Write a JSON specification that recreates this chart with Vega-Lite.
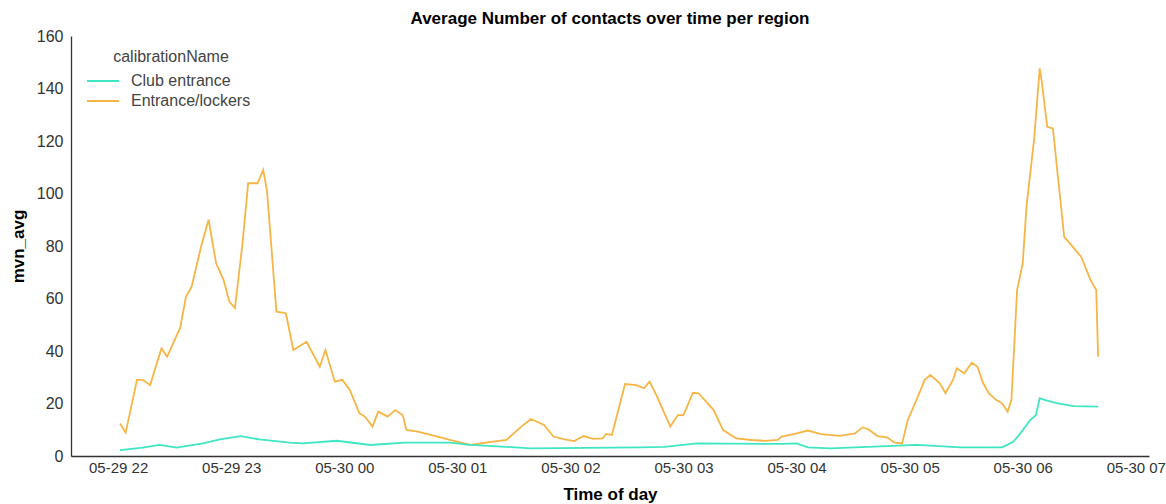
{
  "$schema": "https://vega.github.io/schema/vega-lite/v6.json",
  "width": 1078,
  "height": 420,
  "autosize": {"type": "none"},
  "padding": {"left": 71, "top": 36, "right": 17, "bottom": 48},
  "background": "white",
  "title": {"text": "Average Number of contacts over time per region", "fontSize": 17, "font": "Liberation Sans", "fontWeight": "bold", "color": "#000000", "anchor": "middle", "offset": 0},
  "data": {"values": [
    {"time": "2021-05-29T22:01:00", "mvn_avg": 12.4, "calibrationName": "Entrance/lockers"},
    {"time": "2021-05-29T22:04:00", "mvn_avg": 8.9, "calibrationName": "Entrance/lockers"},
    {"time": "2021-05-29T22:10:00", "mvn_avg": 29, "calibrationName": "Entrance/lockers"},
    {"time": "2021-05-29T22:13:00", "mvn_avg": 29, "calibrationName": "Entrance/lockers"},
    {"time": "2021-05-29T22:17:00", "mvn_avg": 27, "calibrationName": "Entrance/lockers"},
    {"time": "2021-05-29T22:23:00", "mvn_avg": 41, "calibrationName": "Entrance/lockers"},
    {"time": "2021-05-29T22:26:00", "mvn_avg": 37.8, "calibrationName": "Entrance/lockers"},
    {"time": "2021-05-29T22:33:00", "mvn_avg": 49, "calibrationName": "Entrance/lockers"},
    {"time": "2021-05-29T22:36:00", "mvn_avg": 60.7, "calibrationName": "Entrance/lockers"},
    {"time": "2021-05-29T22:39:00", "mvn_avg": 64.5, "calibrationName": "Entrance/lockers"},
    {"time": "2021-05-29T22:44:00", "mvn_avg": 79.7, "calibrationName": "Entrance/lockers"},
    {"time": "2021-05-29T22:48:00", "mvn_avg": 90, "calibrationName": "Entrance/lockers"},
    {"time": "2021-05-29T22:52:00", "mvn_avg": 73.4, "calibrationName": "Entrance/lockers"},
    {"time": "2021-05-29T22:56:00", "mvn_avg": 67, "calibrationName": "Entrance/lockers"},
    {"time": "2021-05-29T22:59:00", "mvn_avg": 58.8, "calibrationName": "Entrance/lockers"},
    {"time": "2021-05-29T23:02:00", "mvn_avg": 56.3, "calibrationName": "Entrance/lockers"},
    {"time": "2021-05-29T23:06:00", "mvn_avg": 81, "calibrationName": "Entrance/lockers"},
    {"time": "2021-05-29T23:09:00", "mvn_avg": 103.9, "calibrationName": "Entrance/lockers"},
    {"time": "2021-05-29T23:14:00", "mvn_avg": 103.9, "calibrationName": "Entrance/lockers"},
    {"time": "2021-05-29T23:17:00", "mvn_avg": 109, "calibrationName": "Entrance/lockers"},
    {"time": "2021-05-29T23:19:00", "mvn_avg": 101, "calibrationName": "Entrance/lockers"},
    {"time": "2021-05-29T23:24:00", "mvn_avg": 55, "calibrationName": "Entrance/lockers"},
    {"time": "2021-05-29T23:29:00", "mvn_avg": 54.4, "calibrationName": "Entrance/lockers"},
    {"time": "2021-05-29T23:33:00", "mvn_avg": 40.4, "calibrationName": "Entrance/lockers"},
    {"time": "2021-05-29T23:40:00", "mvn_avg": 43.5, "calibrationName": "Entrance/lockers"},
    {"time": "2021-05-29T23:47:00", "mvn_avg": 34, "calibrationName": "Entrance/lockers"},
    {"time": "2021-05-29T23:50:00", "mvn_avg": 40.4, "calibrationName": "Entrance/lockers"},
    {"time": "2021-05-29T23:55:00", "mvn_avg": 28.3, "calibrationName": "Entrance/lockers"},
    {"time": "2021-05-29T23:59:00", "mvn_avg": 29, "calibrationName": "Entrance/lockers"},
    {"time": "2021-05-30T00:03:00", "mvn_avg": 25.1, "calibrationName": "Entrance/lockers"},
    {"time": "2021-05-30T00:08:00", "mvn_avg": 16.3, "calibrationName": "Entrance/lockers"},
    {"time": "2021-05-30T00:11:00", "mvn_avg": 15, "calibrationName": "Entrance/lockers"},
    {"time": "2021-05-30T00:15:00", "mvn_avg": 11.2, "calibrationName": "Entrance/lockers"},
    {"time": "2021-05-30T00:18:00", "mvn_avg": 16.9, "calibrationName": "Entrance/lockers"},
    {"time": "2021-05-30T00:23:00", "mvn_avg": 15, "calibrationName": "Entrance/lockers"},
    {"time": "2021-05-30T00:27:00", "mvn_avg": 17.5, "calibrationName": "Entrance/lockers"},
    {"time": "2021-05-30T00:31:00", "mvn_avg": 15.6, "calibrationName": "Entrance/lockers"},
    {"time": "2021-05-30T00:33:00", "mvn_avg": 9.9, "calibrationName": "Entrance/lockers"},
    {"time": "2021-05-30T00:39:00", "mvn_avg": 9.3, "calibrationName": "Entrance/lockers"},
    {"time": "2021-05-30T00:53:00", "mvn_avg": 6.7, "calibrationName": "Entrance/lockers"},
    {"time": "2021-05-30T00:56:00", "mvn_avg": 6.1, "calibrationName": "Entrance/lockers"},
    {"time": "2021-05-30T01:07:00", "mvn_avg": 4.2, "calibrationName": "Entrance/lockers"},
    {"time": "2021-05-30T01:18:00", "mvn_avg": 5.4, "calibrationName": "Entrance/lockers"},
    {"time": "2021-05-30T01:26:00", "mvn_avg": 6.1, "calibrationName": "Entrance/lockers"},
    {"time": "2021-05-30T01:34:00", "mvn_avg": 11.2, "calibrationName": "Entrance/lockers"},
    {"time": "2021-05-30T01:39:00", "mvn_avg": 14.1, "calibrationName": "Entrance/lockers"},
    {"time": "2021-05-30T01:46:00", "mvn_avg": 11.8, "calibrationName": "Entrance/lockers"},
    {"time": "2021-05-30T01:51:00", "mvn_avg": 7.4, "calibrationName": "Entrance/lockers"},
    {"time": "2021-05-30T01:57:00", "mvn_avg": 6.3, "calibrationName": "Entrance/lockers"},
    {"time": "2021-05-30T02:02:00", "mvn_avg": 5.7, "calibrationName": "Entrance/lockers"},
    {"time": "2021-05-30T02:07:00", "mvn_avg": 7.6, "calibrationName": "Entrance/lockers"},
    {"time": "2021-05-30T02:12:00", "mvn_avg": 6.5, "calibrationName": "Entrance/lockers"},
    {"time": "2021-05-30T02:17:00", "mvn_avg": 6.7, "calibrationName": "Entrance/lockers"},
    {"time": "2021-05-30T02:19:00", "mvn_avg": 8.4, "calibrationName": "Entrance/lockers"},
    {"time": "2021-05-30T02:22:00", "mvn_avg": 8, "calibrationName": "Entrance/lockers"},
    {"time": "2021-05-30T02:29:00", "mvn_avg": 27.4, "calibrationName": "Entrance/lockers"},
    {"time": "2021-05-30T02:35:00", "mvn_avg": 27, "calibrationName": "Entrance/lockers"},
    {"time": "2021-05-30T02:39:00", "mvn_avg": 25.8, "calibrationName": "Entrance/lockers"},
    {"time": "2021-05-30T02:42:00", "mvn_avg": 28.3, "calibrationName": "Entrance/lockers"},
    {"time": "2021-05-30T02:46:00", "mvn_avg": 22.6, "calibrationName": "Entrance/lockers"},
    {"time": "2021-05-30T02:53:00", "mvn_avg": 11.2, "calibrationName": "Entrance/lockers"},
    {"time": "2021-05-30T02:57:00", "mvn_avg": 15.6, "calibrationName": "Entrance/lockers"},
    {"time": "2021-05-30T03:00:00", "mvn_avg": 15.6, "calibrationName": "Entrance/lockers"},
    {"time": "2021-05-30T03:05:00", "mvn_avg": 24.1, "calibrationName": "Entrance/lockers"},
    {"time": "2021-05-30T03:08:00", "mvn_avg": 23.9, "calibrationName": "Entrance/lockers"},
    {"time": "2021-05-30T03:12:00", "mvn_avg": 20.7, "calibrationName": "Entrance/lockers"},
    {"time": "2021-05-30T03:16:00", "mvn_avg": 17.5, "calibrationName": "Entrance/lockers"},
    {"time": "2021-05-30T03:21:00", "mvn_avg": 9.9, "calibrationName": "Entrance/lockers"},
    {"time": "2021-05-30T03:28:00", "mvn_avg": 6.7, "calibrationName": "Entrance/lockers"},
    {"time": "2021-05-30T03:36:00", "mvn_avg": 6.1, "calibrationName": "Entrance/lockers"},
    {"time": "2021-05-30T03:43:00", "mvn_avg": 5.8, "calibrationName": "Entrance/lockers"},
    {"time": "2021-05-30T03:50:00", "mvn_avg": 6.1, "calibrationName": "Entrance/lockers"},
    {"time": "2021-05-30T03:52:00", "mvn_avg": 7.4, "calibrationName": "Entrance/lockers"},
    {"time": "2021-05-30T03:59:00", "mvn_avg": 8.4, "calibrationName": "Entrance/lockers"},
    {"time": "2021-05-30T04:06:00", "mvn_avg": 9.7, "calibrationName": "Entrance/lockers"},
    {"time": "2021-05-30T04:13:00", "mvn_avg": 8.3, "calibrationName": "Entrance/lockers"},
    {"time": "2021-05-30T04:23:00", "mvn_avg": 7.7, "calibrationName": "Entrance/lockers"},
    {"time": "2021-05-30T04:31:00", "mvn_avg": 8.6, "calibrationName": "Entrance/lockers"},
    {"time": "2021-05-30T04:35:00", "mvn_avg": 10.9, "calibrationName": "Entrance/lockers"},
    {"time": "2021-05-30T04:38:00", "mvn_avg": 10.2, "calibrationName": "Entrance/lockers"},
    {"time": "2021-05-30T04:43:00", "mvn_avg": 7.6, "calibrationName": "Entrance/lockers"},
    {"time": "2021-05-30T04:48:00", "mvn_avg": 7.1, "calibrationName": "Entrance/lockers"},
    {"time": "2021-05-30T04:52:00", "mvn_avg": 5.1, "calibrationName": "Entrance/lockers"},
    {"time": "2021-05-30T04:56:00", "mvn_avg": 4.8, "calibrationName": "Entrance/lockers"},
    {"time": "2021-05-30T04:59:00", "mvn_avg": 13.7, "calibrationName": "Entrance/lockers"},
    {"time": "2021-05-30T05:04:00", "mvn_avg": 22, "calibrationName": "Entrance/lockers"},
    {"time": "2021-05-30T05:08:00", "mvn_avg": 29, "calibrationName": "Entrance/lockers"},
    {"time": "2021-05-30T05:11:00", "mvn_avg": 30.9, "calibrationName": "Entrance/lockers"},
    {"time": "2021-05-30T05:16:00", "mvn_avg": 27.7, "calibrationName": "Entrance/lockers"},
    {"time": "2021-05-30T05:19:00", "mvn_avg": 23.9, "calibrationName": "Entrance/lockers"},
    {"time": "2021-05-30T05:23:00", "mvn_avg": 29, "calibrationName": "Entrance/lockers"},
    {"time": "2021-05-30T05:25:00", "mvn_avg": 33.4, "calibrationName": "Entrance/lockers"},
    {"time": "2021-05-30T05:29:00", "mvn_avg": 31.5, "calibrationName": "Entrance/lockers"},
    {"time": "2021-05-30T05:33:00", "mvn_avg": 35.5, "calibrationName": "Entrance/lockers"},
    {"time": "2021-05-30T05:36:00", "mvn_avg": 34, "calibrationName": "Entrance/lockers"},
    {"time": "2021-05-30T05:39:00", "mvn_avg": 27.7, "calibrationName": "Entrance/lockers"},
    {"time": "2021-05-30T05:42:00", "mvn_avg": 23.9, "calibrationName": "Entrance/lockers"},
    {"time": "2021-05-30T05:46:00", "mvn_avg": 21.3, "calibrationName": "Entrance/lockers"},
    {"time": "2021-05-30T05:49:00", "mvn_avg": 20.1, "calibrationName": "Entrance/lockers"},
    {"time": "2021-05-30T05:52:00", "mvn_avg": 16.9, "calibrationName": "Entrance/lockers"},
    {"time": "2021-05-30T05:54:00", "mvn_avg": 21.3, "calibrationName": "Entrance/lockers"},
    {"time": "2021-05-30T05:57:00", "mvn_avg": 63.2, "calibrationName": "Entrance/lockers"},
    {"time": "2021-05-30T06:00:00", "mvn_avg": 73.4, "calibrationName": "Entrance/lockers"},
    {"time": "2021-05-30T06:02:00", "mvn_avg": 95, "calibrationName": "Entrance/lockers"},
    {"time": "2021-05-30T06:06:00", "mvn_avg": 120.4, "calibrationName": "Entrance/lockers"},
    {"time": "2021-05-30T06:09:00", "mvn_avg": 147.7, "calibrationName": "Entrance/lockers"},
    {"time": "2021-05-30T06:10:00", "mvn_avg": 143.2, "calibrationName": "Entrance/lockers"},
    {"time": "2021-05-30T06:13:00", "mvn_avg": 125.4, "calibrationName": "Entrance/lockers"},
    {"time": "2021-05-30T06:16:00", "mvn_avg": 124.8, "calibrationName": "Entrance/lockers"},
    {"time": "2021-05-30T06:22:00", "mvn_avg": 83.5, "calibrationName": "Entrance/lockers"},
    {"time": "2021-05-30T06:25:00", "mvn_avg": 81, "calibrationName": "Entrance/lockers"},
    {"time": "2021-05-30T06:31:00", "mvn_avg": 75.9, "calibrationName": "Entrance/lockers"},
    {"time": "2021-05-30T06:36:00", "mvn_avg": 67, "calibrationName": "Entrance/lockers"},
    {"time": "2021-05-30T06:39:00", "mvn_avg": 63.2, "calibrationName": "Entrance/lockers"},
    {"time": "2021-05-30T06:40:00", "mvn_avg": 37.8, "calibrationName": "Entrance/lockers"},
    {"time": "2021-05-29T22:01:00", "mvn_avg": 2.2, "calibrationName": "Club entrance"},
    {"time": "2021-05-29T22:13:00", "mvn_avg": 3.2, "calibrationName": "Club entrance"},
    {"time": "2021-05-29T22:22:00", "mvn_avg": 4.2, "calibrationName": "Club entrance"},
    {"time": "2021-05-29T22:31:00", "mvn_avg": 3.2, "calibrationName": "Club entrance"},
    {"time": "2021-05-29T22:45:00", "mvn_avg": 4.8, "calibrationName": "Club entrance"},
    {"time": "2021-05-29T22:54:00", "mvn_avg": 6.3, "calibrationName": "Club entrance"},
    {"time": "2021-05-29T23:05:00", "mvn_avg": 7.6, "calibrationName": "Club entrance"},
    {"time": "2021-05-29T23:15:00", "mvn_avg": 6.3, "calibrationName": "Club entrance"},
    {"time": "2021-05-29T23:31:00", "mvn_avg": 5.1, "calibrationName": "Club entrance"},
    {"time": "2021-05-29T23:38:00", "mvn_avg": 4.8, "calibrationName": "Club entrance"},
    {"time": "2021-05-29T23:56:00", "mvn_avg": 5.8, "calibrationName": "Club entrance"},
    {"time": "2021-05-30T00:14:00", "mvn_avg": 4.2, "calibrationName": "Club entrance"},
    {"time": "2021-05-30T00:32:00", "mvn_avg": 5.1, "calibrationName": "Club entrance"},
    {"time": "2021-05-30T00:56:00", "mvn_avg": 5.1, "calibrationName": "Club entrance"},
    {"time": "2021-05-30T01:07:00", "mvn_avg": 4.2, "calibrationName": "Club entrance"},
    {"time": "2021-05-30T01:26:00", "mvn_avg": 3.5, "calibrationName": "Club entrance"},
    {"time": "2021-05-30T01:39:00", "mvn_avg": 2.9, "calibrationName": "Club entrance"},
    {"time": "2021-05-30T02:37:00", "mvn_avg": 3.3, "calibrationName": "Club entrance"},
    {"time": "2021-05-30T02:50:00", "mvn_avg": 3.5, "calibrationName": "Club entrance"},
    {"time": "2021-05-30T03:07:00", "mvn_avg": 4.8, "calibrationName": "Club entrance"},
    {"time": "2021-05-30T03:52:00", "mvn_avg": 4.6, "calibrationName": "Club entrance"},
    {"time": "2021-05-30T04:00:00", "mvn_avg": 4.8, "calibrationName": "Club entrance"},
    {"time": "2021-05-30T04:06:00", "mvn_avg": 3.3, "calibrationName": "Club entrance"},
    {"time": "2021-05-30T04:18:00", "mvn_avg": 2.9, "calibrationName": "Club entrance"},
    {"time": "2021-05-30T05:04:00", "mvn_avg": 4.2, "calibrationName": "Club entrance"},
    {"time": "2021-05-30T05:27:00", "mvn_avg": 3.3, "calibrationName": "Club entrance"},
    {"time": "2021-05-30T05:49:00", "mvn_avg": 3.3, "calibrationName": "Club entrance"},
    {"time": "2021-05-30T05:55:00", "mvn_avg": 5.4, "calibrationName": "Club entrance"},
    {"time": "2021-05-30T05:59:00", "mvn_avg": 8.9, "calibrationName": "Club entrance"},
    {"time": "2021-05-30T06:04:00", "mvn_avg": 13.7, "calibrationName": "Club entrance"},
    {"time": "2021-05-30T06:07:00", "mvn_avg": 15.6, "calibrationName": "Club entrance"},
    {"time": "2021-05-30T06:09:00", "mvn_avg": 22, "calibrationName": "Club entrance"},
    {"time": "2021-05-30T06:12:00", "mvn_avg": 21.3, "calibrationName": "Club entrance"},
    {"time": "2021-05-30T06:18:00", "mvn_avg": 20.1, "calibrationName": "Club entrance"},
    {"time": "2021-05-30T06:27:00", "mvn_avg": 19, "calibrationName": "Club entrance"},
    {"time": "2021-05-30T06:40:00", "mvn_avg": 18.8, "calibrationName": "Club entrance"}
  ]},
  "mark": {"type": "line", "strokeWidth": 1.8, "interpolate": "linear"},
  "encoding": {
    "x": {
      "field": "time", "type": "temporal", "title": "Time of day",
      "scale": {"domain": [
        {"year": 2021, "month": 5, "date": 29, "hours": 21, "minutes": 35},
        {"year": 2021, "month": 5, "date": 30, "hours": 7, "minutes": 7}
      ]},
      "axis": {
        "format": "%m-%d %H",
        "labelFlush": false,
        "labelOverlap": false,
        "labelFontSize": 15,
        "labelPadding": 4,
        "titlePadding": 11,
        "values": [
          {"year": 2021, "month": 5, "date": 29, "hours": 22},
          {"year": 2021, "month": 5, "date": 29, "hours": 23},
          {"year": 2021, "month": 5, "date": 30, "hours": 0},
          {"year": 2021, "month": 5, "date": 30, "hours": 1},
          {"year": 2021, "month": 5, "date": 30, "hours": 2},
          {"year": 2021, "month": 5, "date": 30, "hours": 3},
          {"year": 2021, "month": 5, "date": 30, "hours": 4},
          {"year": 2021, "month": 5, "date": 30, "hours": 5},
          {"year": 2021, "month": 5, "date": 30, "hours": 6},
          {"year": 2021, "month": 5, "date": 30, "hours": 7}
        ]
      }
    },
    "y": {
      "field": "mvn_avg", "type": "quantitative", "title": "mvn_avg",
      "scale": {"domain": [0, 160], "nice": false, "zero": true},
      "axis": {"values": [0, 20, 40, 60, 80, 100, 120, 140, 160], "labelPadding": 8, "titlePadding": 9}
    },
    "color": {
      "field": "calibrationName", "type": "nominal", "title": "calibrationName",
      "scale": {"domain": ["Club entrance", "Entrance/lockers"], "range": ["#3ee6c3", "#f6b545"]},
      "legend": {
        "orient": "none", "legendX": 21, "legendY": 13,
        "symbolType": "M -1.6 0 H 1.6", "symbolSize": 400, "symbolStrokeWidth": 2,
        "labelOffset": 17, "rowPadding": 1, "titlePadding": 5, "titleAnchor": "middle", "padding": 0
      }
    }
  },
  "config": {
    "view": {"stroke": null},
    "axis": {
      "grid": false, "ticks": false,
      "domainColor": "#333333", "domainWidth": 1.3,
      "labelFont": "Liberation Sans", "labelFontSize": 16, "labelColor": "#333333",
      "titleFont": "Liberation Sans", "titleFontSize": 17, "titleFontWeight": "bold", "titleColor": "#000000"
    },
    "legend": {
      "titleFont": "Liberation Sans", "titleFontSize": 16, "titleFontWeight": "normal", "titleColor": "#444444",
      "labelFont": "Liberation Sans", "labelFontSize": 16, "labelColor": "#444444"
    }
  }
}
